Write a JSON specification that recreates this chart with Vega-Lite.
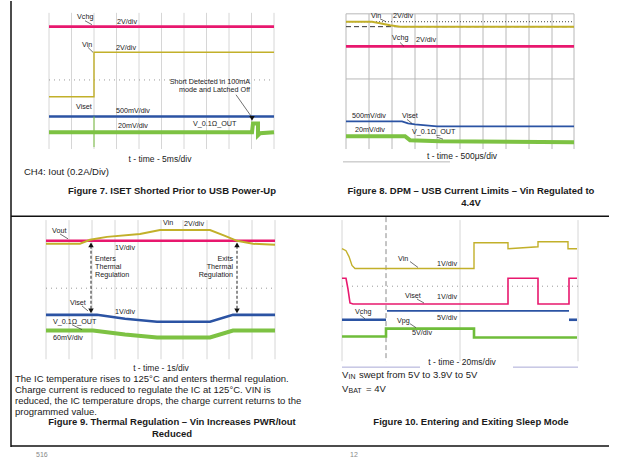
{
  "$schema": "https://vega.github.io/schema/vega-lite/v6.json",
  "width": 620,
  "height": 458,
  "autosize": {"type": "fit", "contains": "padding"},
  "padding": 0,
  "background": "white",
  "config": {"view": {"stroke": null}, "text": {"font": "Liberation Sans", "color": "#1a1a1a", "baseline": "middle"}},
  "datasets": {
    "rules": [
      {"k": "border", "x": 11, "y": 0, "x2": 11, "y2": 452},
      {"k": "border", "x": 11, "y": 218, "x2": 609, "y2": 218},
      {"k": "border", "x": 11, "y": 451, "x2": 609, "y2": 451},

      {"k": "grid", "x": 49, "y": 12, "x2": 49, "y2": 150},
      {"k": "grid", "x": 71.5, "y": 12, "x2": 71.5, "y2": 150},
      {"k": "grid", "x": 94, "y": 12, "x2": 94, "y2": 150},
      {"k": "grid", "x": 116.5, "y": 12, "x2": 116.5, "y2": 150},
      {"k": "grid", "x": 139, "y": 12, "x2": 139, "y2": 150},
      {"k": "grid", "x": 161.5, "y": 12, "x2": 161.5, "y2": 150},
      {"k": "grid", "x": 184, "y": 12, "x2": 184, "y2": 150},
      {"k": "grid", "x": 206.5, "y": 12, "x2": 206.5, "y2": 150},
      {"k": "grid", "x": 229, "y": 12, "x2": 229, "y2": 150},
      {"k": "grid", "x": 251.5, "y": 12, "x2": 251.5, "y2": 150},
      {"k": "grid", "x": 274, "y": 12, "x2": 274, "y2": 150},
      {"k": "gridd", "x": 49, "y": 80, "x2": 274, "y2": 80},

      {"k": "grid2", "x": 346, "y": 13, "x2": 346, "y2": 150},
      {"k": "grid2", "x": 369, "y": 13, "x2": 369, "y2": 150},
      {"k": "grid2", "x": 392, "y": 13, "x2": 392, "y2": 150},
      {"k": "grid2", "x": 415, "y": 13, "x2": 415, "y2": 150},
      {"k": "grid2", "x": 437, "y": 13, "x2": 437, "y2": 150},
      {"k": "grid2", "x": 460, "y": 13, "x2": 460, "y2": 150},
      {"k": "grid2", "x": 483, "y": 13, "x2": 483, "y2": 150},
      {"k": "grid2", "x": 506, "y": 13, "x2": 506, "y2": 150},
      {"k": "grid2", "x": 529, "y": 13, "x2": 529, "y2": 150},
      {"k": "grid2", "x": 552, "y": 13, "x2": 552, "y2": 150},
      {"k": "grid2", "x": 574, "y": 13, "x2": 574, "y2": 150},
      {"k": "grid2", "x": 346, "y": 13, "x2": 574, "y2": 13},
      {"k": "grid2", "x": 346, "y": 79, "x2": 574, "y2": 79},
      {"k": "grid2", "x": 343, "y": 163, "x2": 450, "y2": 163},
      {"k": "bdot", "x": 346, "y": 21, "x2": 574, "y2": 21},
      {"k": "bdash", "x": 346, "y": 26, "x2": 574, "y2": 26},

      {"k": "grid", "x": 46, "y": 222, "x2": 46, "y2": 363},
      {"k": "grid", "x": 69, "y": 222, "x2": 69, "y2": 363},
      {"k": "grid", "x": 92, "y": 222, "x2": 92, "y2": 363},
      {"k": "grid", "x": 115, "y": 222, "x2": 115, "y2": 363},
      {"k": "grid", "x": 138, "y": 222, "x2": 138, "y2": 363},
      {"k": "grid", "x": 161, "y": 222, "x2": 161, "y2": 363},
      {"k": "grid", "x": 183, "y": 222, "x2": 183, "y2": 363},
      {"k": "grid", "x": 207, "y": 222, "x2": 207, "y2": 363},
      {"k": "grid", "x": 229, "y": 222, "x2": 229, "y2": 363},
      {"k": "grid", "x": 252, "y": 222, "x2": 252, "y2": 363},
      {"k": "grid", "x": 275, "y": 222, "x2": 275, "y2": 363},
      {"k": "gridd", "x": 46, "y": 291, "x2": 275, "y2": 291},

      {"k": "grid", "x": 342, "y": 222, "x2": 342, "y2": 365},
      {"k": "grid", "x": 460, "y": 222, "x2": 460, "y2": 365},
      {"k": "grid", "x": 578, "y": 222, "x2": 578, "y2": 365},
      {"k": "gridd", "x": 342, "y": 289, "x2": 578, "y2": 289},
      {"k": "vdash", "x": 386, "y": 219, "x2": 386, "y2": 365},
      {"k": "lav", "x": 342, "y": 371, "x2": 420, "y2": 371},
      {"k": "lav", "x": 513, "y": 371, "x2": 578, "y2": 371},

      {"k": "ptr", "x": 85, "y": 20, "x2": 92, "y2": 24},
      {"k": "ptr", "x": 88, "y": 47, "x2": 93, "y2": 52},
      {"k": "ptr", "x": 236, "y": 95, "x2": 252, "y2": 118},
      {"k": "ptr", "x": 380, "y": 18, "x2": 386, "y2": 21},
      {"k": "ptr", "x": 400, "y": 42, "x2": 404, "y2": 46},
      {"k": "ptr", "x": 407, "y": 120, "x2": 412, "y2": 124},
      {"k": "ptr", "x": 437, "y": 138, "x2": 443, "y2": 140},
      {"k": "ptr", "x": 60, "y": 236, "x2": 68, "y2": 241},
      {"k": "ptr", "x": 82, "y": 309, "x2": 88, "y2": 314},
      {"k": "ptr", "x": 72, "y": 328, "x2": 82, "y2": 333},
      {"k": "ptr", "x": 410, "y": 264, "x2": 418, "y2": 270},
      {"k": "ptr", "x": 417, "y": 302, "x2": 424, "y2": 306},
      {"k": "ptr", "x": 360, "y": 318, "x2": 365, "y2": 322},
      {"k": "ptr", "x": 410, "y": 327, "x2": 416, "y2": 331},
      {"k": "arr", "x": 91, "y": 248, "x2": 91, "y2": 313},
      {"k": "arr", "x": 237, "y": 248, "x2": 237, "y2": 313}
    ],
    "heads": [
      {"k": "up", "x": 91, "y": 247},
      {"k": "up", "x": 237, "y": 247},
      {"k": "down", "x": 91, "y": 314},
      {"k": "down", "x": 237, "y": 314},
      {"k": "down", "x": 252, "y": 119}
    ],
    "traces": [
      {"s": "p1P", "k": "P", "i": 0, "x": 49, "y": 26},
      {"s": "p1P", "k": "P", "i": 1, "x": 274, "y": 26},
      {"s": "p1Y", "k": "Y", "i": 0, "x": 49, "y": 97},
      {"s": "p1Y", "k": "Y", "i": 1, "x": 94, "y": 97},
      {"s": "p1Y", "k": "Y", "i": 2, "x": 94, "y": 52},
      {"s": "p1Y", "k": "Y", "i": 3, "x": 274, "y": 52},
      {"s": "p1B", "k": "B", "i": 0, "x": 49, "y": 117},
      {"s": "p1B", "k": "B", "i": 1, "x": 274, "y": 117},
      {"s": "p1g", "k": "g1", "i": 0, "x": 94, "y": 117},
      {"s": "p1g", "k": "g1", "i": 1, "x": 94, "y": 148},
      {"s": "p1G", "k": "G", "i": 0, "x": 49, "y": 133},
      {"s": "p1G", "k": "G", "i": 1, "x": 252, "y": 133},
      {"s": "p1G", "k": "G", "i": 2, "x": 253, "y": 124},
      {"s": "p1G", "k": "G", "i": 3, "x": 258, "y": 124},
      {"s": "p1G", "k": "G", "i": 4, "x": 258, "y": 136},
      {"s": "p1G", "k": "G", "i": 5, "x": 260, "y": 134},
      {"s": "p1G", "k": "G", "i": 6, "x": 274, "y": 133},

      {"s": "p2Y", "k": "Y2", "i": 0, "x": 346, "y": 21},
      {"s": "p2Y", "k": "Y2", "i": 1, "x": 372, "y": 21},
      {"s": "p2Y", "k": "Y2", "i": 2, "x": 380, "y": 22.5},
      {"s": "p2Y", "k": "Y2", "i": 3, "x": 390, "y": 24.5},
      {"s": "p2Y", "k": "Y2", "i": 4, "x": 400, "y": 26},
      {"s": "p2Y", "k": "Y2", "i": 5, "x": 574, "y": 26},
      {"s": "p2P", "k": "P", "i": 0, "x": 346, "y": 46},
      {"s": "p2P", "k": "P", "i": 1, "x": 574, "y": 46},
      {"s": "p2B", "k": "b", "i": 0, "x": 346, "y": 122},
      {"s": "p2B", "k": "b", "i": 1, "x": 402, "y": 122},
      {"s": "p2B", "k": "b", "i": 2, "x": 408, "y": 124},
      {"s": "p2B", "k": "b", "i": 3, "x": 415, "y": 125},
      {"s": "p2B", "k": "b", "i": 4, "x": 437, "y": 127},
      {"s": "p2B", "k": "b", "i": 5, "x": 574, "y": 127},
      {"s": "p2G", "k": "G", "i": 0, "x": 346, "y": 137},
      {"s": "p2G", "k": "G", "i": 1, "x": 405, "y": 137},
      {"s": "p2G", "k": "G", "i": 2, "x": 410, "y": 141},
      {"s": "p2G", "k": "G", "i": 3, "x": 440, "y": 142},
      {"s": "p2G", "k": "G", "i": 4, "x": 574, "y": 143},

      {"s": "p3P", "k": "P", "i": 0, "x": 46, "y": 243},
      {"s": "p3P", "k": "P", "i": 1, "x": 275, "y": 243},
      {"s": "p3Y", "k": "Y2", "i": 0, "x": 46, "y": 246},
      {"s": "p3Y", "k": "Y2", "i": 1, "x": 80, "y": 246},
      {"s": "p3Y", "k": "Y2", "i": 2, "x": 90, "y": 242},
      {"s": "p3Y", "k": "Y2", "i": 3, "x": 107, "y": 239},
      {"s": "p3Y", "k": "Y2", "i": 4, "x": 140, "y": 236},
      {"s": "p3Y", "k": "Y2", "i": 5, "x": 150, "y": 234},
      {"s": "p3Y", "k": "Y2", "i": 6, "x": 160, "y": 232},
      {"s": "p3Y", "k": "Y2", "i": 7, "x": 210, "y": 232},
      {"s": "p3Y", "k": "Y2", "i": 8, "x": 225, "y": 238},
      {"s": "p3Y", "k": "Y2", "i": 9, "x": 237, "y": 243},
      {"s": "p3Y", "k": "Y2", "i": 10, "x": 253, "y": 246},
      {"s": "p3Y", "k": "Y2", "i": 11, "x": 275, "y": 247},
      {"s": "p3B", "k": "B", "i": 0, "x": 46, "y": 318},
      {"s": "p3B", "k": "B", "i": 1, "x": 97, "y": 318},
      {"s": "p3B", "k": "B", "i": 2, "x": 125, "y": 322},
      {"s": "p3B", "k": "B", "i": 3, "x": 157, "y": 325},
      {"s": "p3B", "k": "B", "i": 4, "x": 210, "y": 325},
      {"s": "p3B", "k": "B", "i": 5, "x": 233, "y": 318},
      {"s": "p3B", "k": "B", "i": 6, "x": 275, "y": 318},
      {"s": "p3G", "k": "G", "i": 0, "x": 46, "y": 334},
      {"s": "p3G", "k": "G", "i": 1, "x": 93, "y": 334},
      {"s": "p3G", "k": "G", "i": 2, "x": 125, "y": 338},
      {"s": "p3G", "k": "G", "i": 3, "x": 157, "y": 341},
      {"s": "p3G", "k": "G", "i": 4, "x": 210, "y": 341},
      {"s": "p3G", "k": "G", "i": 5, "x": 233, "y": 334},
      {"s": "p3G", "k": "G", "i": 6, "x": 275, "y": 334},

      {"s": "p4Y", "k": "Y", "i": 0, "x": 342, "y": 251},
      {"s": "p4Y", "k": "Y", "i": 1, "x": 346, "y": 253},
      {"s": "p4Y", "k": "Y", "i": 2, "x": 349, "y": 259},
      {"s": "p4Y", "k": "Y", "i": 3, "x": 352, "y": 268},
      {"s": "p4Y", "k": "Y", "i": 4, "x": 355, "y": 271},
      {"s": "p4Y", "k": "Y", "i": 5, "x": 474, "y": 271},
      {"s": "p4Y", "k": "Y", "i": 6, "x": 474, "y": 245},
      {"s": "p4Y", "k": "Y", "i": 7, "x": 508, "y": 245},
      {"s": "p4Y", "k": "Y", "i": 8, "x": 508, "y": 251},
      {"s": "p4Y", "k": "Y", "i": 9, "x": 538, "y": 249},
      {"s": "p4Y", "k": "Y", "i": 10, "x": 538, "y": 244},
      {"s": "p4Y", "k": "Y", "i": 11, "x": 568, "y": 244},
      {"s": "p4Y", "k": "Y", "i": 12, "x": 568, "y": 251},
      {"s": "p4Y", "k": "Y", "i": 13, "x": 577, "y": 251},
      {"s": "p4P", "k": "p", "i": 0, "x": 342, "y": 281},
      {"s": "p4P", "k": "p", "i": 1, "x": 346, "y": 281},
      {"s": "p4P", "k": "p", "i": 2, "x": 348, "y": 292},
      {"s": "p4P", "k": "p", "i": 3, "x": 350, "y": 306},
      {"s": "p4P", "k": "p", "i": 4, "x": 353, "y": 307},
      {"s": "p4P", "k": "p", "i": 5, "x": 508, "y": 307},
      {"s": "p4P", "k": "p", "i": 6, "x": 508, "y": 281},
      {"s": "p4P", "k": "p", "i": 7, "x": 538, "y": 281},
      {"s": "p4P", "k": "p", "i": 8, "x": 538, "y": 307},
      {"s": "p4P", "k": "p", "i": 9, "x": 569, "y": 307},
      {"s": "p4P", "k": "p", "i": 10, "x": 569, "y": 281},
      {"s": "p4P", "k": "p", "i": 11, "x": 577, "y": 281},
      {"s": "p4B1", "k": "B", "i": 0, "x": 342, "y": 323},
      {"s": "p4B1", "k": "B", "i": 1, "x": 386, "y": 323},
      {"s": "p4B2", "k": "b", "i": 0, "x": 387, "y": 314},
      {"s": "p4B2", "k": "b", "i": 1, "x": 569, "y": 314},
      {"s": "p4B3", "k": "B", "i": 0, "x": 569, "y": 323},
      {"s": "p4B3", "k": "B", "i": 1, "x": 577, "y": 323},
      {"s": "p4G", "k": "g", "i": 0, "x": 342, "y": 340},
      {"s": "p4G", "k": "g", "i": 1, "x": 386, "y": 340},
      {"s": "p4G", "k": "g", "i": 2, "x": 386, "y": 332},
      {"s": "p4G", "k": "g", "i": 3, "x": 474, "y": 332},
      {"s": "p4G", "k": "g", "i": 4, "x": 474, "y": 341},
      {"s": "p4G", "k": "g", "i": 5, "x": 577, "y": 341}
    ],
    "labels": [
      {"k": "lab", "t": "Vchg", "x": 77, "y": 16},
      {"k": "lab", "t": "2V/div", "x": 117, "y": 21},
      {"k": "lab", "t": "Vin", "x": 82, "y": 45},
      {"k": "lab", "t": "2V/div", "x": 116, "y": 48},
      {"k": "lab", "t": "Viset", "x": 76, "y": 107},
      {"k": "lab", "t": "500mV/div", "x": 116, "y": 111},
      {"k": "lab", "t": "20mV/div", "x": 118, "y": 127},
      {"k": "lab", "t": "V_0.1Ω_OUT", "x": 193, "y": 125},
      {"k": "labr", "t": "Short Detected in 100mA", "x": 250, "y": 82},
      {"k": "labr", "t": "mode and Latched Off", "x": 250, "y": 90},

      {"k": "lab", "t": "Vin", "x": 371, "y": 15},
      {"k": "lab", "t": "2V/div", "x": 393, "y": 15},
      {"k": "lab", "t": "Vchg", "x": 392, "y": 37},
      {"k": "lab", "t": "2V/div", "x": 416, "y": 40},
      {"k": "lab", "t": "500mV/div", "x": 352, "y": 117},
      {"k": "lab", "t": "Viset", "x": 402, "y": 117},
      {"k": "lab", "t": "20mV/div", "x": 355, "y": 131},
      {"k": "lab", "t": "V_0.1Ω_OUT", "x": 412, "y": 133},

      {"k": "lab", "t": "Vout", "x": 52, "y": 233},
      {"k": "lab", "t": "Vin", "x": 163, "y": 225},
      {"k": "lab", "t": "2V/div", "x": 184, "y": 226},
      {"k": "lab", "t": "1V/div", "x": 115, "y": 250},
      {"k": "lab", "t": "Enters", "x": 95, "y": 261},
      {"k": "lab", "t": "Thermal", "x": 95, "y": 270},
      {"k": "lab", "t": "Regulation", "x": 95, "y": 278},
      {"k": "labr", "t": "Exits", "x": 233, "y": 261},
      {"k": "labr", "t": "Thermal", "x": 233, "y": 270},
      {"k": "labr", "t": "Regulation", "x": 233, "y": 278},
      {"k": "lab", "t": "Viset", "x": 70, "y": 306},
      {"k": "lab", "t": "1V/div", "x": 115, "y": 315},
      {"k": "lab", "t": "V_0.1Ω_OUT", "x": 53, "y": 325},
      {"k": "lab", "t": "60mV/div", "x": 53, "y": 341},

      {"k": "lab", "t": "Vin", "x": 398, "y": 261},
      {"k": "lab", "t": "1V/div", "x": 437, "y": 266},
      {"k": "lab", "t": "Viset", "x": 405, "y": 299},
      {"k": "lab", "t": "1V/div", "x": 437, "y": 300},
      {"k": "lab", "t": "Vchg", "x": 355, "y": 315},
      {"k": "lab", "t": "5V/div", "x": 437, "y": 321},
      {"k": "lab", "t": "Vpg", "x": 397, "y": 324},
      {"k": "lab", "t": "5V/div", "x": 412, "y": 336},

      {"k": "ax", "t": "t - time - 5ms/div", "x": 160, "y": 160},
      {"k": "ax", "t": "t - time - 500μs/div", "x": 462, "y": 157},
      {"k": "ax", "t": "t - time - 1s/div", "x": 161, "y": 372},
      {"k": "ax", "t": "t - time - 20ms/div", "x": 462, "y": 366},

      {"k": "par", "t": "CH4: Iout (0.2A/Div)", "x": 24, "y": 173},
      {"k": "par", "t": "The IC temperature rises to 125°C and enters thermal regulation.", "x": 15, "y": 383},
      {"k": "par", "t": "Charge current is reduced to regulate the IC at 125°C. VIN is", "x": 15, "y": 394},
      {"k": "par", "t": "reduced, the IC temperature drops, the charge current returns to the", "x": 15, "y": 405},
      {"k": "par", "t": "programmed value.", "x": 15, "y": 416},
      {"k": "par", "t": "V", "x": 342, "y": 379},
      {"k": "sub", "t": "IN", "x": 348.5, "y": 381},
      {"k": "par", "t": "swept from 5V to 3.9V to 5V", "x": 359, "y": 379},
      {"k": "par", "t": "V", "x": 342, "y": 393},
      {"k": "sub", "t": "BAT", "x": 348.5, "y": 395},
      {"k": "par", "t": "= 4V", "x": 366, "y": 393},

      {"k": "cap", "t": "Figure 7. ISET Shorted Prior to USB Power-Up", "x": 172, "y": 193},
      {"k": "cap", "t": "Figure 8. DPM – USB Current Limits – Vin Regulated to", "x": 471, "y": 193},
      {"k": "cap", "t": "4.4V", "x": 471, "y": 205},
      {"k": "cap", "t": "Figure 9. Thermal Regulation – Vin Increases PWR/Iout", "x": 172, "y": 427},
      {"k": "cap", "t": "Reduced", "x": 172, "y": 439},
      {"k": "cap", "t": "Figure 10. Entering and Exiting Sleep Mode", "x": 471, "y": 427},

      {"k": "pg", "t": "516", "x": 36, "y": 460},
      {"k": "pg", "t": "12", "x": 350, "y": 460}
    ]
  },
  "encoding": {
    "x": {"field": "x", "type": "quantitative", "scale": {"domain": [0, 620], "nice": false, "zero": false}, "axis": null},
    "y": {"field": "y", "type": "quantitative", "scale": {"domain": [0, 458], "nice": false, "zero": false, "reverse": true}, "axis": null}
  },
  "layer": [
    {
      "data": {"name": "rules"},
      "transform": [{"filter": "datum.k === 'grid'"}],
      "mark": {"type": "rule", "color": "#d6d6d6", "strokeWidth": 1},
      "encoding": {"x2": {"field": "x2"}, "y2": {"field": "y2"}}
    },
    {
      "data": {"name": "rules"},
      "transform": [{"filter": "datum.k === 'grid2'"}],
      "mark": {"type": "rule", "color": "#b8b8b8", "strokeWidth": 1},
      "encoding": {"x2": {"field": "x2"}, "y2": {"field": "y2"}}
    },
    {
      "data": {"name": "rules"},
      "transform": [{"filter": "datum.k === 'gridd'"}],
      "mark": {"type": "rule", "color": "#9a9a9a", "strokeWidth": 1, "strokeDash": [1, 4]},
      "encoding": {"x2": {"field": "x2"}, "y2": {"field": "y2"}}
    },
    {
      "data": {"name": "rules"},
      "transform": [{"filter": "datum.k === 'vdash'"}],
      "mark": {"type": "rule", "color": "#8a8a8a", "strokeWidth": 1, "strokeDash": [5, 3]},
      "encoding": {"x2": {"field": "x2"}, "y2": {"field": "y2"}}
    },
    {
      "data": {"name": "rules"},
      "transform": [{"filter": "datum.k === 'lav'"}],
      "mark": {"type": "rule", "color": "#a9a9d6", "strokeWidth": 1},
      "encoding": {"x2": {"field": "x2"}, "y2": {"field": "y2"}}
    },
    {
      "data": {"name": "rules"},
      "transform": [{"filter": "datum.k === 'bdot'"}],
      "mark": {"type": "rule", "color": "#444444", "strokeWidth": 1, "strokeDash": [1, 2]},
      "encoding": {"x2": {"field": "x2"}, "y2": {"field": "y2"}}
    },
    {
      "data": {"name": "rules"},
      "transform": [{"filter": "datum.k === 'bdash'"}],
      "mark": {"type": "rule", "color": "#333333", "strokeWidth": 1, "strokeDash": [5, 3]},
      "encoding": {"x2": {"field": "x2"}, "y2": {"field": "y2"}}
    },
    {
      "data": {"name": "traces"},
      "mark": {"type": "line", "strokeCap": "butt", "strokeJoin": "miter"},
      "encoding": {
        "detail": {"field": "s"},
        "order": {"field": "i", "type": "quantitative"},
        "color": {"field": "k", "type": "nominal", "legend": null,
          "scale": {"type": "ordinal", "domain": ["P", "p", "Y", "Y2", "B", "b", "G", "g", "g1"],
                    "range": ["#e8186e", "#e8186e", "#c2b02a", "#c2b02a", "#2b53a3", "#2b53a3", "#7dc243", "#6fbd3a", "#7dc243"]}},
        "strokeWidth": {"field": "k", "type": "nominal", "legend": null,
          "scale": {"type": "ordinal", "domain": ["P", "p", "Y", "Y2", "B", "b", "G", "g", "g1"],
                    "range": [2.6, 1.6, 1.4, 2.0, 2.6, 1.8, 4, 2.6, 1]}}
      }
    },
    {
      "data": {"name": "rules"},
      "transform": [{"filter": "datum.k === 'ptr'"}],
      "mark": {"type": "rule", "color": "#333333", "strokeWidth": 0.7},
      "encoding": {"x2": {"field": "x2"}, "y2": {"field": "y2"}}
    },
    {
      "data": {"name": "rules"},
      "transform": [{"filter": "datum.k === 'arr'"}],
      "mark": {"type": "rule", "color": "#222222", "strokeWidth": 1, "strokeDash": [3, 2]},
      "encoding": {"x2": {"field": "x2"}, "y2": {"field": "y2"}}
    },
    {
      "data": {"name": "heads"},
      "transform": [{"filter": "datum.k === 'up'"}],
      "mark": {"type": "point", "shape": "triangle-up", "filled": true, "color": "#111111", "size": 30, "opacity": 1},
      "encoding": {}
    },
    {
      "data": {"name": "heads"},
      "transform": [{"filter": "datum.k === 'down'"}],
      "mark": {"type": "point", "shape": "triangle-down", "filled": true, "color": "#111111", "size": 30, "opacity": 1},
      "encoding": {}
    },
    {
      "data": {"name": "rules"},
      "transform": [{"filter": "datum.k === 'border'"}],
      "mark": {"type": "rule", "color": "#111111", "strokeWidth": 1.5},
      "encoding": {"x2": {"field": "x2"}, "y2": {"field": "y2"}}
    },
    {
      "data": {"name": "labels"},
      "transform": [{"filter": "datum.k === 'lab'"}],
      "mark": {"type": "text", "fontSize": 7.2, "align": "left"},
      "encoding": {"text": {"field": "t"}}
    },
    {
      "data": {"name": "labels"},
      "transform": [{"filter": "datum.k === 'labr'"}],
      "mark": {"type": "text", "fontSize": 7.2, "align": "right"},
      "encoding": {"text": {"field": "t"}}
    },
    {
      "data": {"name": "labels"},
      "transform": [{"filter": "datum.k === 'ax'"}],
      "mark": {"type": "text", "fontSize": 8.5, "align": "center"},
      "encoding": {"text": {"field": "t"}}
    },
    {
      "data": {"name": "labels"},
      "transform": [{"filter": "datum.k === 'par'"}],
      "mark": {"type": "text", "fontSize": 9.5, "align": "left"},
      "encoding": {"text": {"field": "t"}}
    },
    {
      "data": {"name": "labels"},
      "transform": [{"filter": "datum.k === 'sub'"}],
      "mark": {"type": "text", "fontSize": 7, "align": "left"},
      "encoding": {"text": {"field": "t"}}
    },
    {
      "data": {"name": "labels"},
      "transform": [{"filter": "datum.k === 'cap'"}],
      "mark": {"type": "text", "fontSize": 9.5, "fontWeight": "bold", "align": "center"},
      "encoding": {"text": {"field": "t"}}
    },
    {
      "data": {"name": "labels"},
      "transform": [{"filter": "datum.k === 'pg'"}],
      "mark": {"type": "text", "fontSize": 7, "align": "left", "color": "#888888"},
      "encoding": {"text": {"field": "t"}}
    }
  ]
}
